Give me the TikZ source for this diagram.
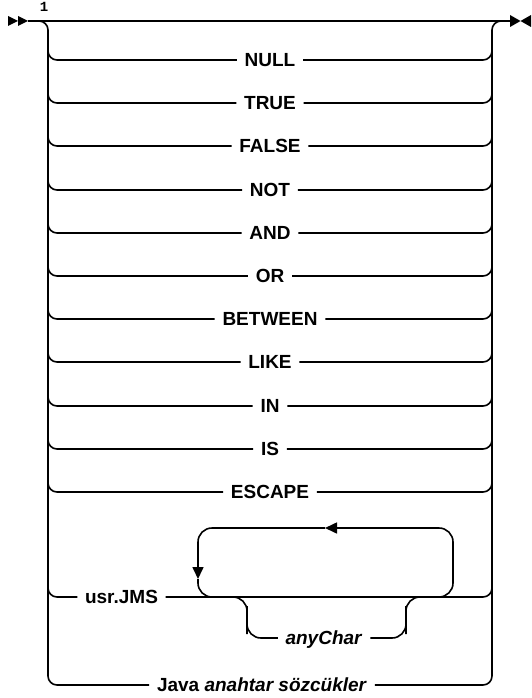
\documentclass[tikz,border=0pt]{standalone}
\usepackage{fontspec}
\setmainfont{Liberation Sans}
\setmonofont{Liberation Mono}
\usetikzlibrary{arrows.meta, positioning}

\begin{document}
\begin{tikzpicture}[
    x=1pt, y=-1pt,
    line width=1.6pt,
    font=\fontsize{19}{22}\selectfont\bfseries,
    kw/.style={inner xsep=7pt, inner ysep=0pt, text height=13.6pt, text depth=0pt},
    rail/.style={rounded corners=9pt},
    loopline/.style={rounded corners=14pt},
    arrow/.style={-{Triangle[length=12pt, width=11pt]}},
    tri/.style={fill=black, draw=none}
]

\useasboundingbox (0,0) rectangle (531,698);

% entry and exit
\coordinate (start) at (28,21);
\coordinate (stop) at (510,21);
\coordinate (lrail) at (48,21);
\coordinate (rrail) at (492,21);

\fill[tri] ([xshift=-20pt, yshift=5pt]start) -- ([xshift=-10pt]start) -- ([xshift=-20pt, yshift=-5pt]start) -- cycle;
\fill[tri] ([xshift=-10pt, yshift=5pt]start) -- (start) -- ([xshift=-10pt, yshift=-5pt]start) -- cycle;
\fill[tri] ([yshift=6pt]stop) -- ([xshift=10.5pt]stop) -- ([yshift=-6pt]stop) -- cycle;
\fill[tri] ([xshift=21pt, yshift=6pt]stop) -- ([xshift=10.5pt]stop) -- ([xshift=21pt, yshift=-6pt]stop) -- cycle;

\node[font=\fontsize{14}{14}\selectfont\ttfamily\bfseries, anchor=base, inner sep=0pt] (note) at (44,12) {1};

\draw (start) -- (stop);

% keyword rows
\foreach \kw/\ry [count=\i] in {NULL/60, TRUE/103, FALSE/146, NOT/190, AND/233, OR/276, BETWEEN/319, LIKE/362, IN/406, IS/449, ESCAPE/492} {
  \node[kw] (k\i) at (270,\ry) {\kw};
  \draw[rail] ([yshift=20pt]lrail |- k\i) |- (k\i.west);
  \draw[rail] (k\i.east) -| ([yshift=20pt]rrail |- k\i);
}

% usr.JMS with repeated anyChar
\node[kw] (usr) at (121.5,597) {usr.JMS};
\node[kw] (any) at (324,638) {\textit{anyChar}};
\draw[rail] ([yshift=20pt]lrail |- usr) |- (usr.west);
\draw[rail] (usr.east) -| ([yshift=20pt]rrail |- usr);

\coordinate (loopin) at (420,597);
\coordinate (loopne) at (453,528);
\coordinate (looptip) at (325,528);
\coordinate (loopdown) at (198,579);
\coordinate (loopout) at (232,597);
\draw[loopline, arrow] (loopin) -| (loopne) -- (looptip);
\draw[loopline, arrow] (looptip) -| (loopdown);
\draw[loopline] (loopdown) |- (loopout);

\coordinate (anyin) at (226,597);
\coordinate (anyl) at (247,620);
\coordinate (anyr) at (406,620);
\coordinate (anyout) at (427,597);
\draw[loopline] (anyin) -| (anyl) |- (any.west);
\draw[loopline] (any.east) -| (anyr) |- (anyout);

% Java keywords
\node[kw] (java) at (262,685) {Java \textit{anahtar sözcükler}};
\draw[rail] (start) -| ([yshift=40pt]lrail |- java) |- (java.west);
\draw[rail] (java.east) -| ([yshift=40pt]rrail |- java) |- (stop);

\end{tikzpicture}
\end{document}
